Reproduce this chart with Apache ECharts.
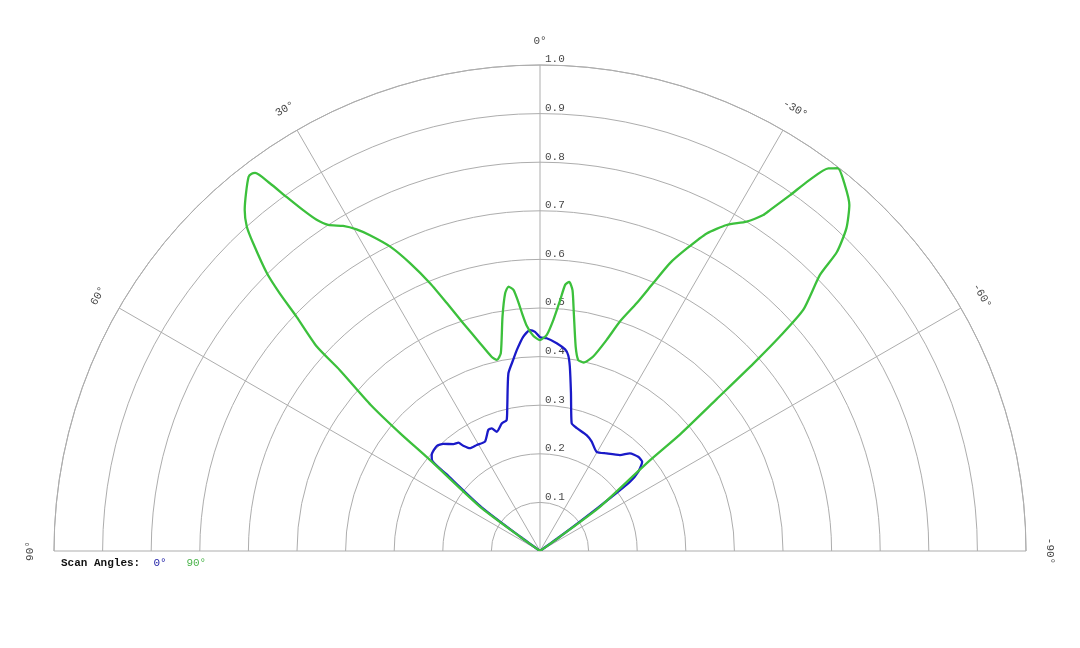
<!DOCTYPE html>
<html>
<head>
<meta charset="utf-8">
<script src="https://cdn.jsdelivr.net/npm/echarts@6/dist/echarts.min.js"></script>
<style>
  html, body { margin: 0; padding: 0; background: #fff; }
  #main { width: 1080px; height: 648px; }
</style>
</head>
<body>
<div id="main"></div>
<script>
// scan angle 0deg : [angle, relative intensity]
var scan0 = [
  [55, 0], [54.2, 0.05], [53.2, 0.15], [50.6, 0.25], [50, 0.29], [48.4, 0.298], [44.5, 0.303],
  [42.1, 0.297], [39, 0.283], [37, 0.279], [36.1, 0.268], [34.3, 0.256], [30.8, 0.254],
  [26.7, 0.252], [23.1, 0.271], [21.5, 0.271], [19.9, 0.261], [16.7, 0.274], [14.3, 0.278],
  [12.8, 0.304], [10.1, 0.371], [8, 0.397], [6.6, 0.416], [4.5, 0.442], [2.6, 0.455],
  [1.3, 0.451], [0, 0.44], [-1.8, 0.438], [-4.6, 0.429], [-7.1, 0.418], [-8.2, 0.407],
  [-9.2, 0.384], [-11.1, 0.331], [-13.9, 0.271], [-16.7, 0.264], [-21.9, 0.257],
  [-25.3, 0.249], [-29.7, 0.235], [-34.3, 0.243], [-39.8, 0.257], [-42.6, 0.273],
  [-46.2, 0.28], [-48.9, 0.279], [-51.1, 0.26], [-52.4, 0.234], [-53.2, 0.15],
  [-54.2, 0.05], [-55, 0]
];

// scan angle 90deg
var scan90 = [
  [55, 0], [54.4, 0.051], [53.6, 0.153], [50.4, 0.294], [49.9, 0.376], [49.2, 0.46],
  [47.9, 0.555], [47.5, 0.623], [46.1, 0.695], [45.3, 0.753], [44.5, 0.802], [43, 0.865],
  [42.1, 0.9], [40.9, 0.928], [39.4, 0.953], [37.9, 0.976], [37.4, 0.977], [37, 0.974],
  [36.3, 0.939], [35.6, 0.896], [34.8, 0.854], [34, 0.822], [33, 0.8], [31.2, 0.782],
  [29.7, 0.762], [28.3, 0.738], [26.2, 0.698], [24.3, 0.65], [22.3, 0.595], [20.6, 0.545],
  [18.6, 0.494], [16.1, 0.445], [14, 0.412], [12.7, 0.403], [11.2, 0.415], [9.1, 0.488],
  [7.7, 0.535], [6.8, 0.548], [5.8, 0.54], [5, 0.515], [4.3, 0.49],
  [3.4, 0.465], [1.8, 0.443], [0, 0.434], [-1.8, 0.445], [-3.3, 0.476], [-4.6, 0.518],
  [-5.4, 0.55], [-6.2, 0.557], [-7.1, 0.541], [-8.1, 0.494], [-9.9, 0.427], [-11.3, 0.401],
  [-13, 0.398], [-15.3, 0.415], [-17.5, 0.455], [-19.2, 0.5], [-21.3, 0.547],
  [-22.9, 0.598], [-24.3, 0.65], [-25.9, 0.692], [-27.7, 0.738], [-29.8, 0.773],
  [-32.1, 0.8], [-33.6, 0.83], [-34, 0.846], [-35.1, 0.895], [-36, 0.944], [-37, 0.986],
  [-37.9, 0.998], [-39.8, 0.98], [-41.8, 0.955], [-43.5, 0.916], [-44.8, 0.867],
  [-45.4, 0.809], [-47.5, 0.735], [-48.2, 0.662], [-48.7, 0.585], [-49.3, 0.48],
  [-50.2, 0.376], [-50.5, 0.29], [-53.6, 0.153], [-54.4, 0.051], [-55, 0]
];

var angleTicks = [90, 60, 30, 0, -30, -60, -90];
var ringTicks = [0.1, 0.2, 0.3, 0.4, 0.5, 0.6, 0.7, 0.8, 0.9, 1.0];

var FONT = '"Liberation Mono", "Courier New", monospace';
var GRID = '#adadad';
var BLUE = '#1a1ac8';
var GREEN = '#3cc03c';

var chart = echarts.init(document.getElementById('main'));

var option = {
  backgroundColor: '#fff',
  animation: false,
  title: {
    left: 56,
    top: 553,
    text: '{t|Scan Angles:}  {b|0°}   {g|90°}',
    textStyle: {
      fontFamily: FONT, fontSize: 11, color: '#111', fontWeight: 'normal',
      rich: {
        t: { fontFamily: FONT, fontSize: 11, color: '#111', fontWeight: 'bold' },
        b: { fontFamily: FONT, fontSize: 11, color: '#2323a8' },
        g: { fontFamily: FONT, fontSize: 11, color: '#4cb44c' }
      }
    }
  },
  polar: { center: [540, 551], radius: 486 },
  angleAxis: {
    type: 'value',
    min: -90,
    max: 90,
    interval: 30,
    startAngle: 0,
    endAngle: 180,
    clockwise: false,
    axisLine: { show: true, lineStyle: { color: GRID, width: 1 } },
    axisTick: { show: false },
    axisLabel: { show: false },
    splitLine: { show: true, lineStyle: { color: GRID, width: 1 } }
  },
  radiusAxis: {
    type: 'value',
    min: 0,
    max: 1,
    interval: 0.1,
    axisLine: { show: false },
    axisTick: { show: false },
    axisLabel: { show: false },
    splitLine: { show: true, lineStyle: { color: GRID, width: 1 } }
  },
  series: [
    {
      type: 'line',
      coordinateSystem: 'polar',
      data: scan0.map(function (p) { return [p[1], p[0]]; }),
      showSymbol: false,
      smooth: 0.2,
      lineStyle: { color: BLUE, width: 2.3 },
      z: 3
    },
    {
      type: 'line',
      coordinateSystem: 'polar',
      data: scan90.map(function (p) { return [p[1], p[0]]; }),
      showSymbol: false,
      smooth: 0.2,
      lineStyle: { color: GREEN, width: 2.3 },
      z: 4
    },
    {
      // angle tick labels around the rim
      type: 'scatter',
      coordinateSystem: 'polar',
      symbolSize: 0,
      clip: false,
      silent: true,
      data: angleTicks.map(function (a) { return [1.05, a]; }),
      label: {
        show: true,
        position: 'inside',
        fontFamily: FONT,
        fontSize: 11,
        color: '#111',
        formatter: function (p) { return p.value[1] + '°'; }
      },
      labelLayout: function (p) {
        return { rotate: angleTicks[p.dataIndex] };
      }
    },
    {
      // radius tick labels up the 0deg spoke
      type: 'scatter',
      coordinateSystem: 'polar',
      symbolSize: 0,
      clip: false,
      silent: true,
      data: ringTicks.map(function (r) { return [r, 0]; }),
      label: {
        show: true,
        position: [5, -11],
        fontFamily: FONT,
        fontSize: 11,
        color: '#111',
        formatter: function (p) { return p.value[0].toFixed(1); }
      }
    }
  ]
};

chart.setOption(option);
</script>
</body>
</html>
